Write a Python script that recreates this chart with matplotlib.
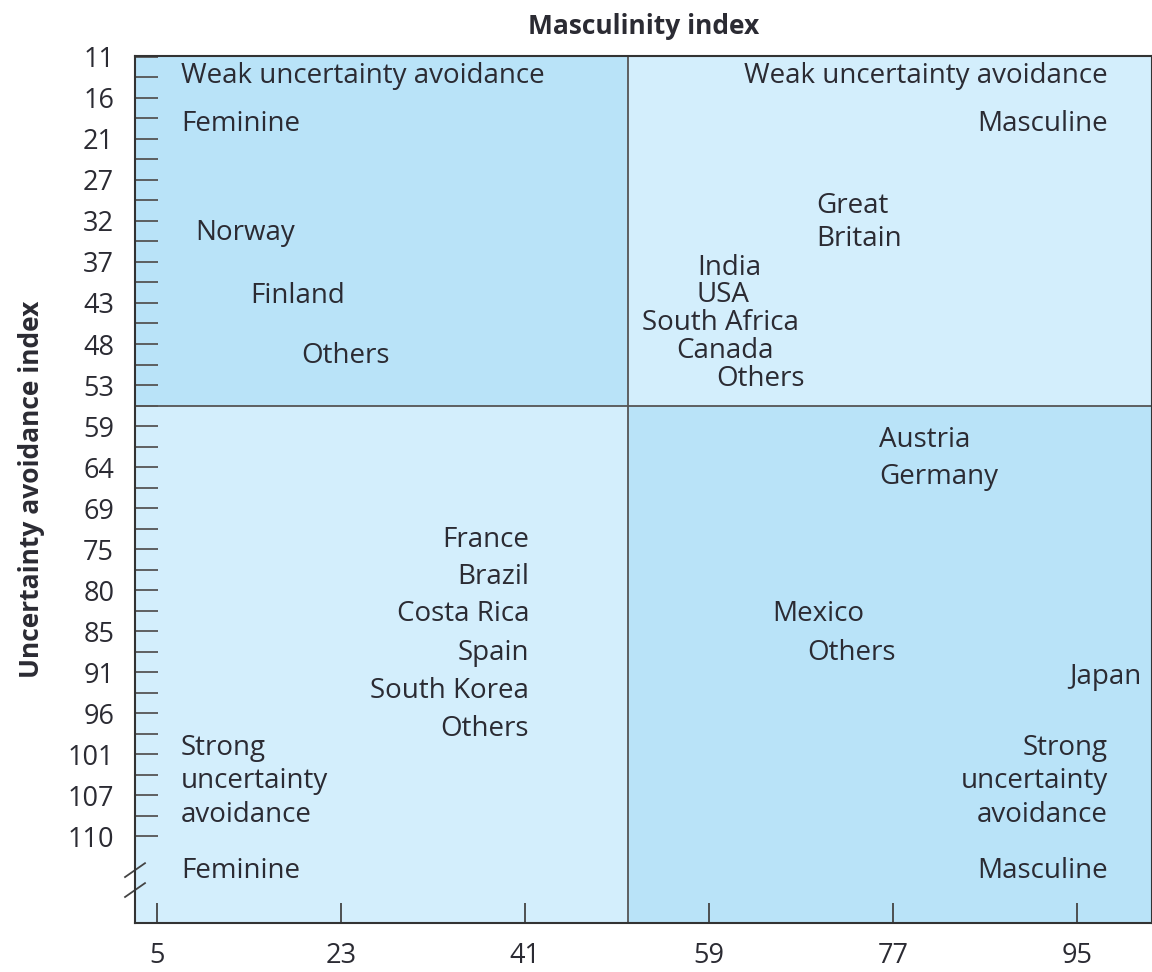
import matplotlib.pyplot as plt
import numpy as np

# axis scales
x_ticks = [5, 23, 41, 59, 77, 95]
y_tick_labels = ['11', '16', '21', '27', '32', '37', '43', '48', '53', '59',
                 '64', '69', '75', '80', '85', '91', '96', '101', '107', '110']
y_ticks = np.linspace(11, 110, len(y_tick_labels))

# where the two dimensions split into quadrants
mas_split = 51.1
uai_split = 55.3

# country labels: masculinity, uncertainty avoidance, alignment
names = ['Norway', 'Finland', 'Others',
         'Great\nBritain', 'India', 'USA', 'South Africa', 'Canada', 'Others',
         'France', 'Brazil', 'Costa Rica', 'Spain', 'South Korea', 'Others',
         'Austria', 'Germany', 'Mexico', 'Others', 'Japan']
mas = [8.7, 14.1, 19.1,
       69.5, 57.8, 57.8, 52.45, 55.8, 59.7,
       41.4, 41.4, 41.4, 41.4, 41.4, 41.4,
       75.6, 75.6, 65.2, 68.6, 101.3]
uai = [33.4, 41.4, 49.0,
       32.0, 37.8, 41.25, 44.8, 48.4, 51.9,
       72.3, 77.1, 81.8, 86.75, 91.6, 96.3,
       59.7, 64.4, 81.7, 86.75, 89.8]
align = ['left'] * 9 + ['right'] * 6 + ['left'] * 4 + ['right']

# quadrant captions
corner_text = ['Weak uncertainty avoidance', 'Feminine',
               'Weak uncertainty avoidance', 'Masculine',
               'Strong\nuncertainty\navoidance', 'Feminine',
               'Strong\nuncertainty\navoidance', 'Masculine']
corner_x = [7.35, 7.35, 98.0, 98.0, 7.35, 7.35, 98.0, 98.0]
corner_y = [13.5, 19.6, 13.5, 19.6, 103.0, 114.45, 103.0, 114.45]
corner_align = ['left', 'left', 'right', 'right', 'left', 'left', 'right', 'right']

dark_blue = '#b9e3f8'
light_blue = '#d3eefc'
text_color = '#2b2b33'

plt.rcParams['font.family'] = ['Open Sans', 'DejaVu Sans']

fig = plt.figure(figsize=(11.52, 9.72), dpi=100)
ax = fig.add_axes([0.1172, 0.0504, 0.8828, 0.892])

xmin, xmax = 2.85, 102.3
ymin, ymax = 10.9, 121.0
ax.set_xlim(xmin, xmax)
ax.set_ylim(ymax, ymin)

# quadrant fills
split_frac = (ymax - uai_split) / (ymax - ymin)
ax.axvspan(xmin, mas_split, ymin=split_frac, ymax=1, color=dark_blue, lw=0)
ax.axvspan(mas_split, xmax, ymin=split_frac, ymax=1, color=light_blue, lw=0)
ax.axvspan(xmin, mas_split, ymin=0, ymax=split_frac, color=light_blue, lw=0)
ax.axvspan(mas_split, xmax, ymin=0, ymax=split_frac, color=dark_blue, lw=0)
ax.axvline(mas_split, color='#555555', lw=1.3)
ax.axhline(uai_split, color='#555555', lw=1.3)

fs = 20
for n, x, y, ha in zip(names, mas, uai, align):
    ax.text(x, y, n, ha=ha, va='center', fontsize=fs, color=text_color, linespacing=1.25)
for t, x, y, ha in zip(corner_text, corner_x, corner_y, corner_align):
    ax.text(x, y, t, ha=ha, va='center', fontsize=fs, color=text_color, linespacing=1.25,
            multialignment=ha)

# ticks
tick_fs = 19.5
ax.set_xticks(x_ticks)
ax.set_yticks(y_ticks)
ax.set_yticklabels(y_tick_labels)
ax.set_yticks((y_ticks[:-1] + y_ticks[1:]) / 2, minor=True)
ax.tick_params(axis='x', direction='in', length=14.5, width=1.3, color='#444444',
               labelsize=tick_fs, labelcolor=text_color, pad=14)
ax.tick_params(axis='y', which='both', direction='in', length=16.5, width=1.3, color='#555555',
               labelsize=tick_fs, labelcolor=text_color, pad=15)

for s in ax.spines.values():
    s.set_color('#333333')
    s.set_linewidth(1.5)

# axis break on the uncertainty axis
for yb in (0.061, 0.038):
    ax.plot([-0.0098, 0.0098], [yb - 0.008, yb + 0.008], transform=ax.transAxes,
            color='#444444', lw=1.3, clip_on=False)

ax.set_title('Masculinity index', fontsize=19, fontweight='bold', color=text_color, pad=16)
ax.set_ylabel('Uncertainty avoidance index', fontsize=19, fontweight='bold',
              color=text_color, labelpad=16)

fig.savefig('out.png', dpi=100)
